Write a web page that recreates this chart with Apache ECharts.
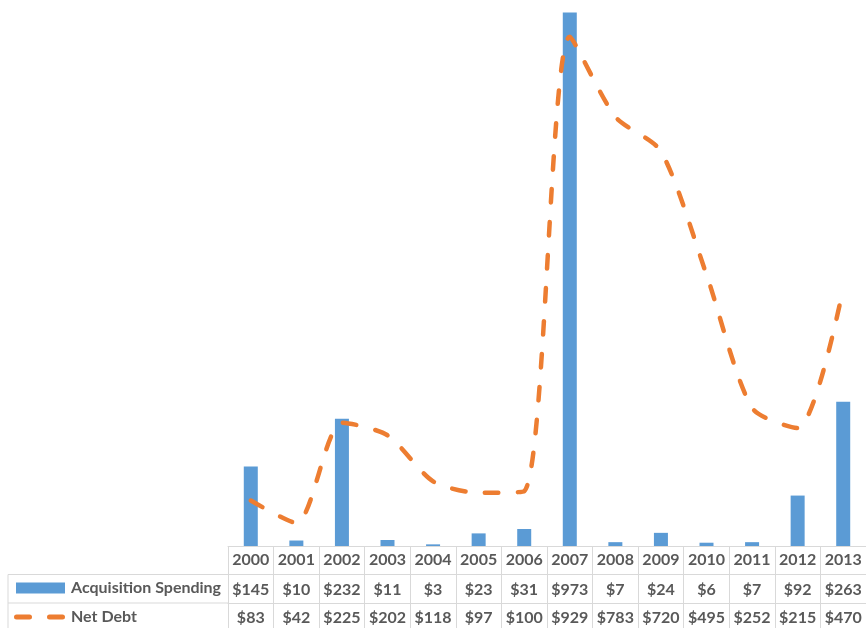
<!DOCTYPE html>
<html>
<head>
<meta charset="utf-8">
<title>Acquisition Spending and Net Debt</title>
<script src="https://cdn.jsdelivr.net/npm/echarts@6/dist/echarts.min.js"></script>
<style>
  html, body { margin: 0; padding: 0; background: #ffffff; }
  #chart { width: 866px; height: 628px; }
</style>
</head>
<body>
<div id="chart"></div>
<script>
// Fiscal years shown in the data table header
const years = ['2000', '2001', '2002', '2003', '2004', '2005', '2006', '2007', '2008', '2009', '2010', '2011', '2012', '2013'];
// Acquisition spending per year ($)
const acquisitionSpending = [145, 10, 232, 11, 3, 23, 31, 973, 7, 24, 6, 7, 92, 263];
// Net debt at year end ($)
const netDebt = [83, 42, 225, 202, 118, 97, 100, 929, 783, 720, 495, 252, 215, 470];

const TEXT = '#595959';
const RULE = '#d9d9d9';
const FONT = 'Lato, "Noto Sans", sans-serif';
const BLUE = '#5b9bd5';
const ORANGE = '#ed7d31';

const gridLeft = 228;
const plotHeight = 546;
const rowH = 28.5;

const money = v => '$' + v;
const labelStyle = { color: TEXT, fontFamily: FONT, fontWeight: 'bold', fontSize: 16 };

// Two rounded dashes used as the key for the dashed series
const dashKey = 'path://M2.5,0 L15.5,0 A2.5,2.5 0 0 1 15.5,5 L2.5,5 A2.5,2.5 0 0 1 2.5,0 Z ' +
                'M35.5,0 L48.5,0 A2.5,2.5 0 0 1 48.5,5 L35.5,5 A2.5,2.5 0 0 1 35.5,0 Z';

const chart = echarts.init(document.getElementById('chart'), null, { renderer: 'canvas' });

chart.setOption({
  animation: false,
  backgroundColor: '#ffffff',
  grid: { left: gridLeft, top: 0, width: 641, height: plotHeight, containLabel: false },
  legend: [
    {
      data: [{ name: 'Acquisition Spending', icon: 'rect' }],
      left: 16, top: 580, padding: 0,
      itemWidth: 49, itemHeight: 11, itemGap: 0,
      textStyle: Object.assign({ lineHeight: 16, padding: [0, 0, 0, 1] }, labelStyle)
    },
    {
      data: [{ name: 'Net Debt', icon: dashKey }],
      left: 14, top: 609, padding: 0,
      itemWidth: 51, itemHeight: 5, itemGap: 0,
      textStyle: Object.assign({ lineHeight: 16, padding: [0, 0, 0, 1] }, labelStyle)
    }
  ],
  xAxis: [
    {
      type: 'category', data: years, position: 'bottom', offset: 0,
      boundaryGap: true,
      axisLine: { show: true, lineStyle: { color: RULE, width: 1 } },
      axisTick: { show: true, length: 84, lineStyle: { color: RULE, width: 1 } },
      axisLabel: Object.assign({ margin: 6, interval: 0 }, labelStyle)
    },
    {
      type: 'category', data: acquisitionSpending.map(money), position: 'bottom', offset: rowH,
      axisLine: { show: true, lineStyle: { color: RULE, width: 1 } },
      axisTick: { show: false },
      axisLabel: Object.assign({ margin: 7, interval: 0 }, labelStyle)
    },
    {
      type: 'category', data: netDebt.map(money), position: 'bottom', offset: rowH * 2,
      axisLine: { show: true, lineStyle: { color: RULE, width: 1 } },
      axisTick: { show: false },
      axisLabel: Object.assign({ margin: 7, interval: 0 }, labelStyle)
    }
  ],
  yAxis: {
    type: 'value', min: 0, max: 996,
    show: false,
    splitLine: { show: false }
  },
  series: [
    {
      name: 'Acquisition Spending',
      type: 'bar',
      xAxisIndex: 0,
      data: acquisitionSpending,
      barWidth: 14,
      itemStyle: { color: BLUE }
    },
    {
      name: 'Net Debt',
      type: 'line',
      xAxisIndex: 0,
      data: netDebt,
      smooth: 0.25,
      symbol: 'none',
      lineStyle: { color: ORANGE, width: 4.5, type: [13.5, 19.5], cap: 'round' },
      itemStyle: { color: ORANGE },
      z: 3
    }
  ],
  // Rules framing the legend cells to the left of the table
  graphic: [
    { type: 'line', shape: { x1: 8, y1: plotHeight + rowH, x2: gridLeft, y2: plotHeight + rowH }, style: { stroke: RULE, lineWidth: 1 } },
    { type: 'line', shape: { x1: 8, y1: plotHeight + rowH * 2, x2: gridLeft, y2: plotHeight + rowH * 2 }, style: { stroke: RULE, lineWidth: 1 } },
    { type: 'line', shape: { x1: 8, y1: plotHeight + rowH, x2: 8, y2: 628 }, style: { stroke: RULE, lineWidth: 1 } }
  ]
});
</script>
</body>
</html>
